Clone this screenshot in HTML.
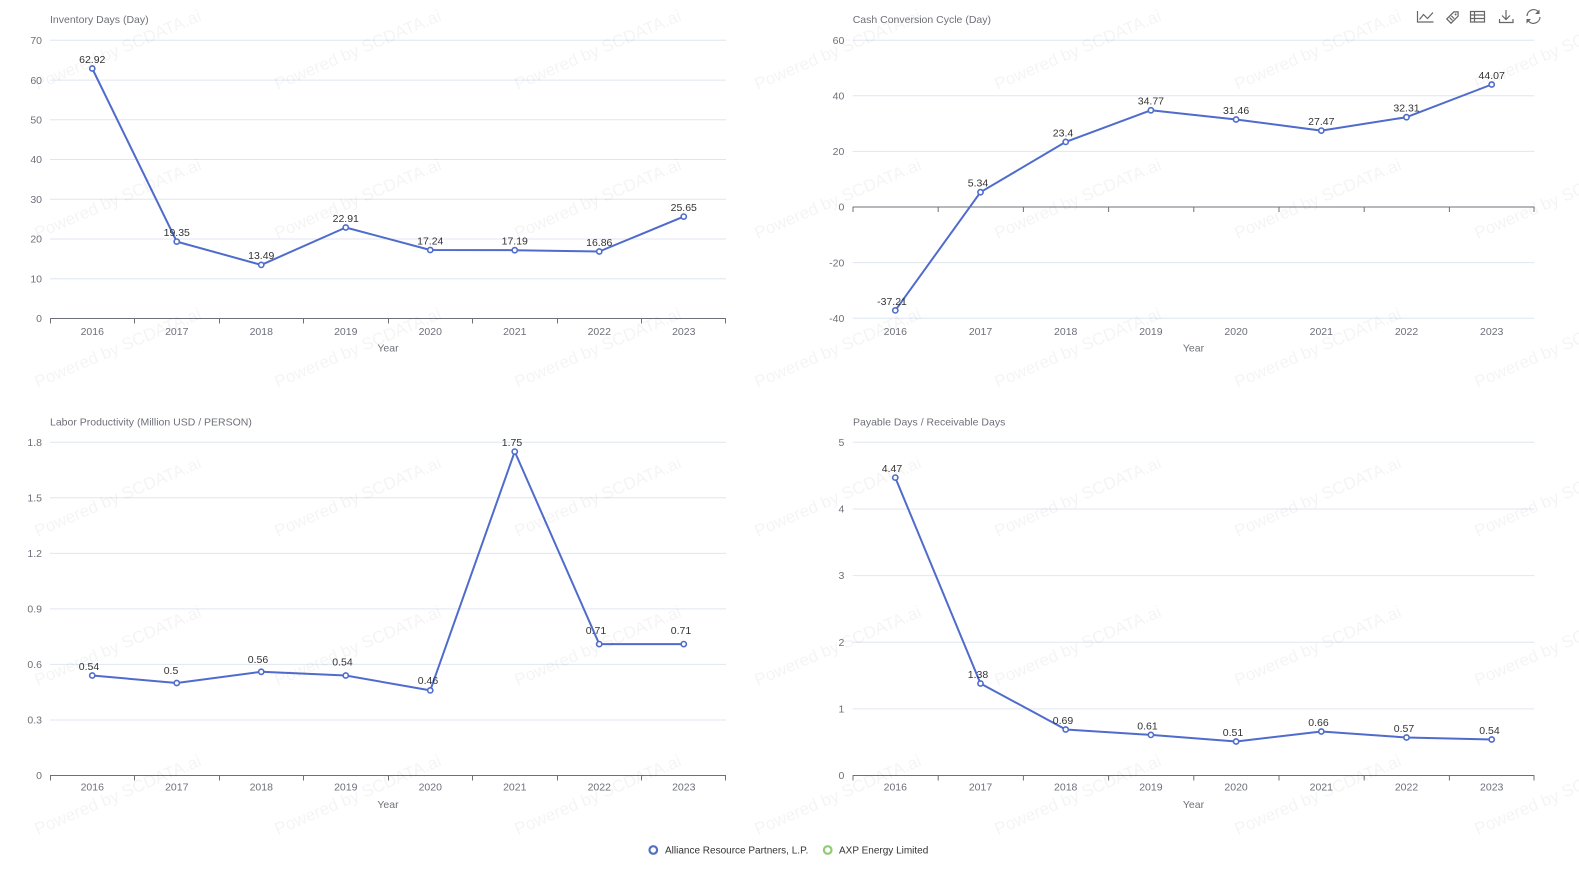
<!DOCTYPE html>
<html><head><meta charset="utf-8"><style>
html,body{margin:0;padding:0;background:#fff;}
svg{display:block;font-family:"Liberation Sans",sans-serif;}
.t{font-size:10.5px;fill:#6E7079;}
.ttl{font-size:10.5px;fill:#6E7079;}
.yl{font-size:10.5px;fill:#6E7079;text-anchor:end;}
.xl{font-size:10.5px;fill:#6E7079;text-anchor:middle;}
.dl{font-size:10.5px;fill:#333;text-anchor:middle;}
.g{stroke:#E0E6F1;stroke-width:1;}
.ax{stroke:#6E7079;stroke-width:1;}
.ln{fill:none;stroke:#4f6bcc;stroke-width:2;stroke-linejoin:round;}
.pt{fill:#fff;stroke:#4f6bcc;stroke-width:1.6;}
.wm{font-size:17px;fill:#000;fill-opacity:0.045;}
.ic{fill:none;stroke:#666;stroke-width:1.2;}
</style></head><body>
<svg width="1579" height="885" viewBox="0 0 1579 885" xmlns="http://www.w3.org/2000/svg">
<rect width="1579" height="885" fill="#fff"/>

<!-- ============ Chart 1 ============ -->
<text class="ttl" x="50" y="23">Inventory Days (Day)</text>
<g>
<line class="g" x1="50" x2="726" y1="40.3" y2="40.3"/>
<line class="g" x1="50" x2="726" y1="80.1" y2="80.1"/>
<line class="g" x1="50" x2="726" y1="119.8" y2="119.8"/>
<line class="g" x1="50" x2="726" y1="159.5" y2="159.5"/>
<line class="g" x1="50" x2="726" y1="199.3" y2="199.3"/>
<line class="g" x1="50" x2="726" y1="239" y2="239"/>
<line class="g" x1="50" x2="726" y1="278.8" y2="278.8"/>
<line class="ax" x1="50" x2="726" y1="318.5" y2="318.5"/>
<path class="ax" d="M50.5 318.5v5M134.5 318.5v5M219.5 318.5v5M303.5 318.5v5M388.5 318.5v5M472.5 318.5v5M557.5 318.5v5M641.5 318.5v5M725.5 318.5v5"/>
<text class="yl" x="42" y="44">70</text>
<text class="yl" x="42" y="84">60</text>
<text class="yl" x="42" y="123.5">50</text>
<text class="yl" x="42" y="163">40</text>
<text class="yl" x="42" y="203">30</text>
<text class="yl" x="42" y="242.5">20</text>
<text class="yl" x="42" y="282.5">10</text>
<text class="yl" x="42" y="322">0</text>
<text class="xl" x="92.25" y="335">2016</text>
<text class="xl" x="176.75" y="335">2017</text>
<text class="xl" x="261.25" y="335">2018</text>
<text class="xl" x="345.75" y="335">2019</text>
<text class="xl" x="430.25" y="335">2020</text>
<text class="xl" x="514.75" y="335">2021</text>
<text class="xl" x="599.25" y="335">2022</text>
<text class="xl" x="683.75" y="335">2023</text>
<text class="xl" x="388" y="351.5">Year</text>
<polyline class="ln" points="92.25,68.5 176.75,241.6 261.25,264.9 345.75,227.5 430.25,250 514.75,250.2 599.25,251.5 683.75,216.6"/>
<circle class="pt" cx="92.25" cy="68.5" r="2.6"/>
<circle class="pt" cx="176.75" cy="241.6" r="2.6"/>
<circle class="pt" cx="261.25" cy="264.9" r="2.6"/>
<circle class="pt" cx="345.75" cy="227.5" r="2.6"/>
<circle class="pt" cx="430.25" cy="250" r="2.6"/>
<circle class="pt" cx="514.75" cy="250.2" r="2.6"/>
<circle class="pt" cx="599.25" cy="251.5" r="2.6"/>
<circle class="pt" cx="683.75" cy="216.6" r="2.6"/>
<text class="dl" x="92.25" y="63">62.92</text>
<text class="dl" x="176.75" y="236">19.35</text>
<text class="dl" x="261.25" y="259">13.49</text>
<text class="dl" x="345.75" y="222">22.91</text>
<text class="dl" x="430.25" y="244.5">17.24</text>
<text class="dl" x="514.75" y="244.5">17.19</text>
<text class="dl" x="599.25" y="246">16.86</text>
<text class="dl" x="683.75" y="211">25.65</text>
</g>

<!-- ============ Chart 2 ============ -->
<text class="ttl" x="852.7" y="23">Cash Conversion Cycle (Day)</text>
<g>
<line class="g" x1="852.7" x2="1534.3" y1="40.2" y2="40.2"/>
<line class="g" x1="852.7" x2="1534.3" y1="95.8" y2="95.8"/>
<line class="g" x1="852.7" x2="1534.3" y1="151.4" y2="151.4"/>
<line class="g" x1="852.7" x2="1534.3" y1="262.6" y2="262.6"/>
<line class="g" x1="852.7" x2="1534.3" y1="318.2" y2="318.2"/>
<line class="ax" x1="852.7" x2="1534.3" y1="207" y2="207"/>
<path class="ax" d="M853 207v5M938.2 207v5M1023.4 207v5M1108.6 207v5M1193.8 207v5M1279 207v5M1364.2 207v5M1449.4 207v5M1534 207v5"/>
<text class="yl" x="844.3" y="44">60</text>
<text class="yl" x="844.3" y="99.5">40</text>
<text class="yl" x="844.3" y="155">20</text>
<text class="yl" x="844.3" y="210.5">0</text>
<text class="yl" x="844.3" y="266.5">-20</text>
<text class="yl" x="844.3" y="322">-40</text>
<text class="xl" x="895.3" y="335">2016</text>
<text class="xl" x="980.5" y="335">2017</text>
<text class="xl" x="1065.7" y="335">2018</text>
<text class="xl" x="1150.9" y="335">2019</text>
<text class="xl" x="1236.1" y="335">2020</text>
<text class="xl" x="1321.3" y="335">2021</text>
<text class="xl" x="1406.5" y="335">2022</text>
<text class="xl" x="1491.7" y="335">2023</text>
<text class="xl" x="1193.5" y="351.5">Year</text>
<polyline class="ln" points="895.3,310.4 980.5,192.2 1065.7,141.9 1150.9,110.3 1236.1,119.5 1321.3,130.6 1406.5,117.2 1491.7,84.5"/>
<circle class="pt" cx="895.3" cy="310.4" r="2.6"/>
<circle class="pt" cx="980.5" cy="192.2" r="2.6"/>
<circle class="pt" cx="1065.7" cy="141.9" r="2.6"/>
<circle class="pt" cx="1150.9" cy="110.3" r="2.6"/>
<circle class="pt" cx="1236.1" cy="119.5" r="2.6"/>
<circle class="pt" cx="1321.3" cy="130.6" r="2.6"/>
<circle class="pt" cx="1406.5" cy="117.2" r="2.6"/>
<circle class="pt" cx="1491.7" cy="84.5" r="2.6"/>
<text class="dl" x="892" y="305">-37.21</text>
<text class="dl" x="978" y="186.5">5.34</text>
<text class="dl" x="1063" y="136.5">23.4</text>
<text class="dl" x="1150.9" y="104.5">34.77</text>
<text class="dl" x="1236.1" y="114">31.46</text>
<text class="dl" x="1321.3" y="125">27.47</text>
<text class="dl" x="1406.5" y="111.5">32.31</text>
<text class="dl" x="1491.7" y="79">44.07</text>
</g>

<!-- ============ Chart 3 ============ -->
<text class="ttl" x="50" y="425.5">Labor Productivity (Million USD / PERSON)</text>
<g>
<line class="g" x1="50" x2="726" y1="442.3" y2="442.3"/>
<line class="g" x1="50" x2="726" y1="497.8" y2="497.8"/>
<line class="g" x1="50" x2="726" y1="553.4" y2="553.4"/>
<line class="g" x1="50" x2="726" y1="608.9" y2="608.9"/>
<line class="g" x1="50" x2="726" y1="664.4" y2="664.4"/>
<line class="g" x1="50" x2="726" y1="720" y2="720"/>
<line class="ax" x1="50" x2="726" y1="775.5" y2="775.5"/>
<path class="ax" d="M50.5 775.5v5M134.5 775.5v5M219.5 775.5v5M303.5 775.5v5M388.5 775.5v5M472.5 775.5v5M557.5 775.5v5M641.5 775.5v5M725.5 775.5v5"/>
<text class="yl" x="42" y="446">1.8</text>
<text class="yl" x="42" y="501.5">1.5</text>
<text class="yl" x="42" y="557">1.2</text>
<text class="yl" x="42" y="612.5">0.9</text>
<text class="yl" x="42" y="668">0.6</text>
<text class="yl" x="42" y="723.5">0.3</text>
<text class="yl" x="42" y="779">0</text>
<text class="xl" x="92.25" y="790.5">2016</text>
<text class="xl" x="176.75" y="790.5">2017</text>
<text class="xl" x="261.25" y="790.5">2018</text>
<text class="xl" x="345.75" y="790.5">2019</text>
<text class="xl" x="430.25" y="790.5">2020</text>
<text class="xl" x="514.75" y="790.5">2021</text>
<text class="xl" x="599.25" y="790.5">2022</text>
<text class="xl" x="683.75" y="790.5">2023</text>
<text class="xl" x="388" y="808">Year</text>
<polyline class="ln" points="92.25,675.5 176.75,683 261.25,671.8 345.75,675.5 430.25,690.4 514.75,451.6 599.25,644.1 683.75,644.1"/>
<circle class="pt" cx="92.25" cy="675.5" r="2.6"/>
<circle class="pt" cx="176.75" cy="683" r="2.6"/>
<circle class="pt" cx="261.25" cy="671.8" r="2.6"/>
<circle class="pt" cx="345.75" cy="675.5" r="2.6"/>
<circle class="pt" cx="430.25" cy="690.4" r="2.6"/>
<circle class="pt" cx="514.75" cy="451.6" r="2.6"/>
<circle class="pt" cx="599.25" cy="644.1" r="2.6"/>
<circle class="pt" cx="683.75" cy="644.1" r="2.6"/>
<text class="dl" x="89" y="670">0.54</text>
<text class="dl" x="171" y="674">0.5</text>
<text class="dl" x="258" y="663">0.56</text>
<text class="dl" x="342.5" y="665.5">0.54</text>
<text class="dl" x="428" y="684">0.46</text>
<text class="dl" x="512" y="446">1.75</text>
<text class="dl" x="596" y="634">0.71</text>
<text class="dl" x="681" y="634">0.71</text>
</g>

<!-- ============ Chart 4 ============ -->
<text class="ttl" x="853" y="425.5">Payable Days / Receivable Days</text>
<g>
<line class="g" x1="852.7" x2="1534.3" y1="442.3" y2="442.3"/>
<line class="g" x1="852.7" x2="1534.3" y1="509" y2="509"/>
<line class="g" x1="852.7" x2="1534.3" y1="575.6" y2="575.6"/>
<line class="g" x1="852.7" x2="1534.3" y1="642.2" y2="642.2"/>
<line class="g" x1="852.7" x2="1534.3" y1="708.9" y2="708.9"/>
<line class="ax" x1="852.7" x2="1534.3" y1="775.5" y2="775.5"/>
<path class="ax" d="M853 775.5v5M938.2 775.5v5M1023.4 775.5v5M1108.6 775.5v5M1193.8 775.5v5M1279 775.5v5M1364.2 775.5v5M1449.4 775.5v5M1534 775.5v5"/>
<text class="yl" x="844.3" y="446">5</text>
<text class="yl" x="844.3" y="512.5">4</text>
<text class="yl" x="844.3" y="579">3</text>
<text class="yl" x="844.3" y="646">2</text>
<text class="yl" x="844.3" y="712.5">1</text>
<text class="yl" x="844.3" y="779">0</text>
<text class="xl" x="895.3" y="790.5">2016</text>
<text class="xl" x="980.5" y="790.5">2017</text>
<text class="xl" x="1065.7" y="790.5">2018</text>
<text class="xl" x="1150.9" y="790.5">2019</text>
<text class="xl" x="1236.1" y="790.5">2020</text>
<text class="xl" x="1321.3" y="790.5">2021</text>
<text class="xl" x="1406.5" y="790.5">2022</text>
<text class="xl" x="1491.7" y="790.5">2023</text>
<text class="xl" x="1193.5" y="808">Year</text>
<polyline class="ln" points="895.3,477.6 980.5,683.5 1065.7,729.5 1150.9,734.9 1236.1,741.5 1321.3,731.5 1406.5,737.5 1491.7,739.5"/>
<circle class="pt" cx="895.3" cy="477.6" r="2.6"/>
<circle class="pt" cx="980.5" cy="683.5" r="2.6"/>
<circle class="pt" cx="1065.7" cy="729.5" r="2.6"/>
<circle class="pt" cx="1150.9" cy="734.9" r="2.6"/>
<circle class="pt" cx="1236.1" cy="741.5" r="2.6"/>
<circle class="pt" cx="1321.3" cy="731.5" r="2.6"/>
<circle class="pt" cx="1406.5" cy="737.5" r="2.6"/>
<circle class="pt" cx="1491.7" cy="739.5" r="2.6"/>
<text class="dl" x="892" y="472">4.47</text>
<text class="dl" x="978" y="678">1.38</text>
<text class="dl" x="1063" y="724">0.69</text>
<text class="dl" x="1147.5" y="729.5">0.61</text>
<text class="dl" x="1233" y="736">0.51</text>
<text class="dl" x="1318.5" y="726">0.66</text>
<text class="dl" x="1404" y="732">0.57</text>
<text class="dl" x="1489.5" y="734">0.54</text>
</g>

<!-- ============ Legend ============ -->
<circle cx="653.3" cy="850" r="3.8" fill="#fff" stroke="#5470c6" stroke-width="2.2"/>
<text x="665" y="853.5" style="font-size:10px;fill:#333">Alliance Resource Partners, L.P.</text>
<circle cx="827.7" cy="850" r="3.8" fill="#fff" stroke="#91cc75" stroke-width="2.2"/>
<text x="839" y="853.5" style="font-size:10px;fill:#333">AXP Energy Limited</text>

<!-- ============ Toolbox ============ -->
<g>
<path class="ic" d="M1417.5 11v11h16M1419.5 19.5l4-5 4 4 5.5-6"/>
<g transform="rotate(-45 1453.5 16.5)"><path class="ic" d="M1447 13.5h10l3 3-3 3h-10z"/><circle cx="1456.5" cy="16.5" r="1" fill="#666"/><path class="ic" d="M1450 14.5v4M1452.5 14.5v4"/></g>
<path class="ic" d="M1470.5 11.5h14v10.5h-14zM1470.5 15h14M1470.5 18.5h14M1474.5 11.5v10.5"/>
<path class="ic" d="M1506 10v9.5M1502 15.5l4 4 4-4M1499.5 19v3.5h13.5v-3.5"/>
<path class="ic" d="M1527 16a6.5 6.5 0 0 1 11.5-4M1540 17a6.5 6.5 0 0 1-11.5 4" stroke-width="1.8"/>
<path d="M1539.5 9.5v4.5h-4.5z M1526.5 23.5v-4.5h4.5z" fill="#666"/>
</g>

<!-- ============ Watermarks ============ -->
<g class="wm">
<text x="120" y="55" text-anchor="middle" transform="rotate(-23 120 55)">Powered by SCDATA.ai</text>
<text x="360" y="55" text-anchor="middle" transform="rotate(-23 360 55)">Powered by SCDATA.ai</text>
<text x="600" y="55" text-anchor="middle" transform="rotate(-23 600 55)">Powered by SCDATA.ai</text>
<text x="840" y="55" text-anchor="middle" transform="rotate(-23 840 55)">Powered by SCDATA.ai</text>
<text x="1080" y="55" text-anchor="middle" transform="rotate(-23 1080 55)">Powered by SCDATA.ai</text>
<text x="1320" y="55" text-anchor="middle" transform="rotate(-23 1320 55)">Powered by SCDATA.ai</text>
<text x="1560" y="55" text-anchor="middle" transform="rotate(-23 1560 55)">Powered by SCDATA.ai</text>
<text x="120" y="204" text-anchor="middle" transform="rotate(-23 120 204)">Powered by SCDATA.ai</text>
<text x="360" y="204" text-anchor="middle" transform="rotate(-23 360 204)">Powered by SCDATA.ai</text>
<text x="600" y="204" text-anchor="middle" transform="rotate(-23 600 204)">Powered by SCDATA.ai</text>
<text x="840" y="204" text-anchor="middle" transform="rotate(-23 840 204)">Powered by SCDATA.ai</text>
<text x="1080" y="204" text-anchor="middle" transform="rotate(-23 1080 204)">Powered by SCDATA.ai</text>
<text x="1320" y="204" text-anchor="middle" transform="rotate(-23 1320 204)">Powered by SCDATA.ai</text>
<text x="1560" y="204" text-anchor="middle" transform="rotate(-23 1560 204)">Powered by SCDATA.ai</text>
<text x="120" y="353" text-anchor="middle" transform="rotate(-23 120 353)">Powered by SCDATA.ai</text>
<text x="360" y="353" text-anchor="middle" transform="rotate(-23 360 353)">Powered by SCDATA.ai</text>
<text x="600" y="353" text-anchor="middle" transform="rotate(-23 600 353)">Powered by SCDATA.ai</text>
<text x="840" y="353" text-anchor="middle" transform="rotate(-23 840 353)">Powered by SCDATA.ai</text>
<text x="1080" y="353" text-anchor="middle" transform="rotate(-23 1080 353)">Powered by SCDATA.ai</text>
<text x="1320" y="353" text-anchor="middle" transform="rotate(-23 1320 353)">Powered by SCDATA.ai</text>
<text x="1560" y="353" text-anchor="middle" transform="rotate(-23 1560 353)">Powered by SCDATA.ai</text>
<text x="120" y="502" text-anchor="middle" transform="rotate(-23 120 502)">Powered by SCDATA.ai</text>
<text x="360" y="502" text-anchor="middle" transform="rotate(-23 360 502)">Powered by SCDATA.ai</text>
<text x="600" y="502" text-anchor="middle" transform="rotate(-23 600 502)">Powered by SCDATA.ai</text>
<text x="840" y="502" text-anchor="middle" transform="rotate(-23 840 502)">Powered by SCDATA.ai</text>
<text x="1080" y="502" text-anchor="middle" transform="rotate(-23 1080 502)">Powered by SCDATA.ai</text>
<text x="1320" y="502" text-anchor="middle" transform="rotate(-23 1320 502)">Powered by SCDATA.ai</text>
<text x="1560" y="502" text-anchor="middle" transform="rotate(-23 1560 502)">Powered by SCDATA.ai</text>
<text x="120" y="651" text-anchor="middle" transform="rotate(-23 120 651)">Powered by SCDATA.ai</text>
<text x="360" y="651" text-anchor="middle" transform="rotate(-23 360 651)">Powered by SCDATA.ai</text>
<text x="600" y="651" text-anchor="middle" transform="rotate(-23 600 651)">Powered by SCDATA.ai</text>
<text x="840" y="651" text-anchor="middle" transform="rotate(-23 840 651)">Powered by SCDATA.ai</text>
<text x="1080" y="651" text-anchor="middle" transform="rotate(-23 1080 651)">Powered by SCDATA.ai</text>
<text x="1320" y="651" text-anchor="middle" transform="rotate(-23 1320 651)">Powered by SCDATA.ai</text>
<text x="1560" y="651" text-anchor="middle" transform="rotate(-23 1560 651)">Powered by SCDATA.ai</text>
<text x="120" y="800" text-anchor="middle" transform="rotate(-23 120 800)">Powered by SCDATA.ai</text>
<text x="360" y="800" text-anchor="middle" transform="rotate(-23 360 800)">Powered by SCDATA.ai</text>
<text x="600" y="800" text-anchor="middle" transform="rotate(-23 600 800)">Powered by SCDATA.ai</text>
<text x="840" y="800" text-anchor="middle" transform="rotate(-23 840 800)">Powered by SCDATA.ai</text>
<text x="1080" y="800" text-anchor="middle" transform="rotate(-23 1080 800)">Powered by SCDATA.ai</text>
<text x="1320" y="800" text-anchor="middle" transform="rotate(-23 1320 800)">Powered by SCDATA.ai</text>
<text x="1560" y="800" text-anchor="middle" transform="rotate(-23 1560 800)">Powered by SCDATA.ai</text>
</g>
</svg>
</body></html>
